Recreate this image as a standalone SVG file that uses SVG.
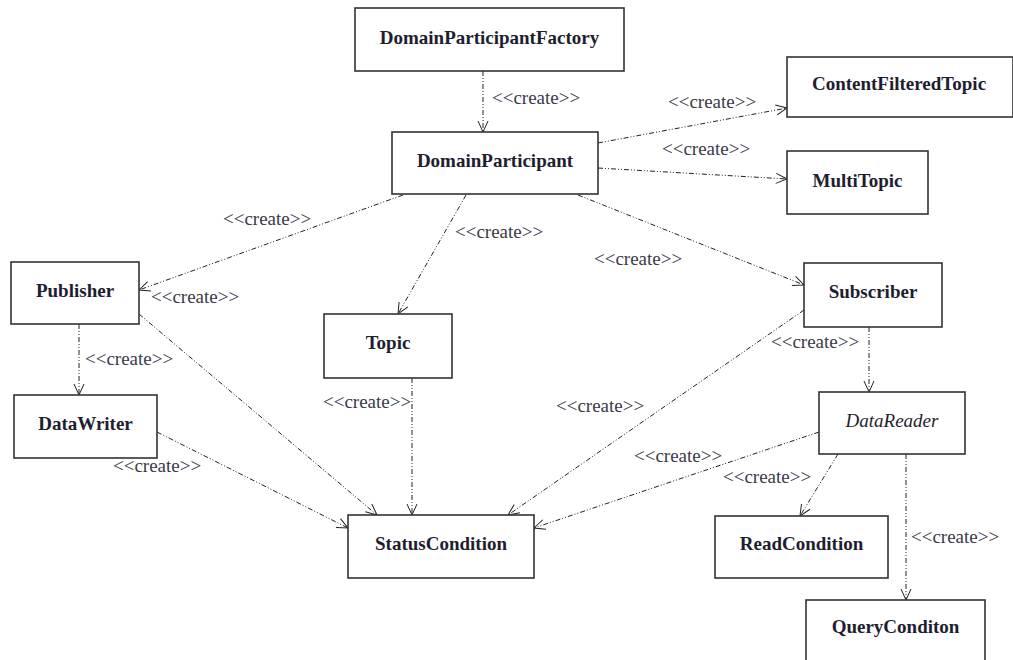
<svg xmlns="http://www.w3.org/2000/svg" width="1013" height="660" viewBox="0 0 1013 660">
<style>
.box{fill:#fff;stroke:#333;stroke-width:1.6}
.nt{font-family:"Liberation Serif",serif;font-size:19px;font-weight:bold;fill:#1e1e30;text-anchor:middle}
.it{font-family:"Liberation Serif",serif;font-size:19px;font-style:italic;fill:#1e1e30;text-anchor:middle}
.lb{font-family:"Liberation Serif",serif;font-size:19px;fill:#3a3a4a}
.c{fill:none;stroke:#222;stroke-width:1;stroke-dasharray:5 2 1 2 1 2;marker-end:url(#arr)}
</style>
<defs>
<marker id="arr" markerUnits="userSpaceOnUse" markerWidth="14" markerHeight="12" refX="12" refY="6" orient="auto">
<path d="M1,1 L12,6 L1,11" fill="none" stroke="#222" stroke-width="1"/>
</marker>
</defs>
<rect width="1013" height="660" fill="#fff"/>
<g id="connectors">
<line class="c" x1="483" y1="71" x2="483" y2="132"/>
<line class="c" x1="598" y1="143" x2="787" y2="108"/>
<line class="c" x1="598" y1="168" x2="787" y2="179"/>
<line class="c" x1="403" y1="195" x2="139" y2="290"/>
<line class="c" x1="466" y1="195" x2="398" y2="314"/>
<line class="c" x1="578" y1="195" x2="804" y2="285"/>
<line class="c" x1="79" y1="324" x2="79" y2="395"/>
<line class="c" x1="139" y1="314" x2="377" y2="515"/>
<line class="c" x1="157" y1="432" x2="348" y2="528"/>
<line class="c" x1="412" y1="378" x2="412" y2="515"/>
<line class="c" x1="804" y1="310" x2="508" y2="515"/>
<line class="c" x1="869" y1="327" x2="869" y2="392"/>
<line class="c" x1="819" y1="432" x2="534" y2="528"/>
<line class="c" x1="838" y1="454" x2="800" y2="516"/>
<line class="c" x1="906" y1="454" x2="906" y2="600"/>
<text class="lb" x="492" y="104">&lt;&lt;create&gt;&gt;</text>
<text class="lb" x="668" y="108">&lt;&lt;create&gt;&gt;</text>
<text class="lb" x="662" y="155">&lt;&lt;create&gt;&gt;</text>
<text class="lb" x="223" y="225">&lt;&lt;create&gt;&gt;</text>
<text class="lb" x="151" y="303">&lt;&lt;create&gt;&gt;</text>
<text class="lb" x="85" y="365">&lt;&lt;create&gt;&gt;</text>
<text class="lb" x="113" y="472">&lt;&lt;create&gt;&gt;</text>
<text class="lb" x="455" y="238">&lt;&lt;create&gt;&gt;</text>
<text class="lb" x="594" y="265">&lt;&lt;create&gt;&gt;</text>
<text class="lb" x="323" y="408">&lt;&lt;create&gt;&gt;</text>
<text class="lb" x="556" y="412">&lt;&lt;create&gt;&gt;</text>
<text class="lb" x="634" y="462">&lt;&lt;create&gt;&gt;</text>
<text class="lb" x="771" y="348">&lt;&lt;create&gt;&gt;</text>
<text class="lb" x="723" y="483">&lt;&lt;create&gt;&gt;</text>
<text class="lb" x="911" y="543">&lt;&lt;create&gt;&gt;</text>
</g>
<g id="DomainParticipantFactory"><rect class="box" x="355" y="8" width="269" height="63"/><text class="nt" x="489.5" y="44">DomainParticipantFactory</text></g>
<g id="DomainParticipant"><rect class="box" x="392" y="132" width="206" height="62"/><text class="nt" x="495" y="167">DomainParticipant</text></g>
<g id="ContentFilteredTopic"><rect class="box" x="787" y="57" width="226" height="60"/><text class="nt" x="899" y="90">ContentFilteredTopic</text></g>
<g id="MultiTopic"><rect class="box" x="787" y="151" width="141" height="63"/><text class="nt" x="857.5" y="187">MultiTopic</text></g>
<g id="Publisher"><rect class="box" x="11" y="262" width="128" height="62"/><text class="nt" x="75" y="297">Publisher</text></g>
<g id="DataWriter"><rect class="box" x="14" y="395" width="143" height="63"/><text class="nt" x="85.5" y="430">DataWriter</text></g>
<g id="Topic"><rect class="box" x="324" y="314" width="128" height="64"/><text class="nt" x="388" y="349">Topic</text></g>
<g id="StatusCondition"><rect class="box" x="348" y="515" width="186" height="63"/><text class="nt" x="441" y="550">StatusCondition</text></g>
<g id="Subscriber"><rect class="box" x="804" y="263" width="138" height="64"/><text class="nt" x="873" y="298">Subscriber</text></g>
<g id="DataReader"><rect class="box" x="819" y="392" width="146" height="62"/><text class="it" x="892" y="427">DataReader</text></g>
<g id="ReadCondition"><rect class="box" x="715" y="516" width="173" height="62"/><text class="nt" x="801.5" y="550">ReadCondition</text></g>
<g id="QueryConditon"><rect class="box" x="806" y="600" width="179" height="64"/><text class="nt" x="895.5" y="633">QueryConditon</text></g>
</svg>
